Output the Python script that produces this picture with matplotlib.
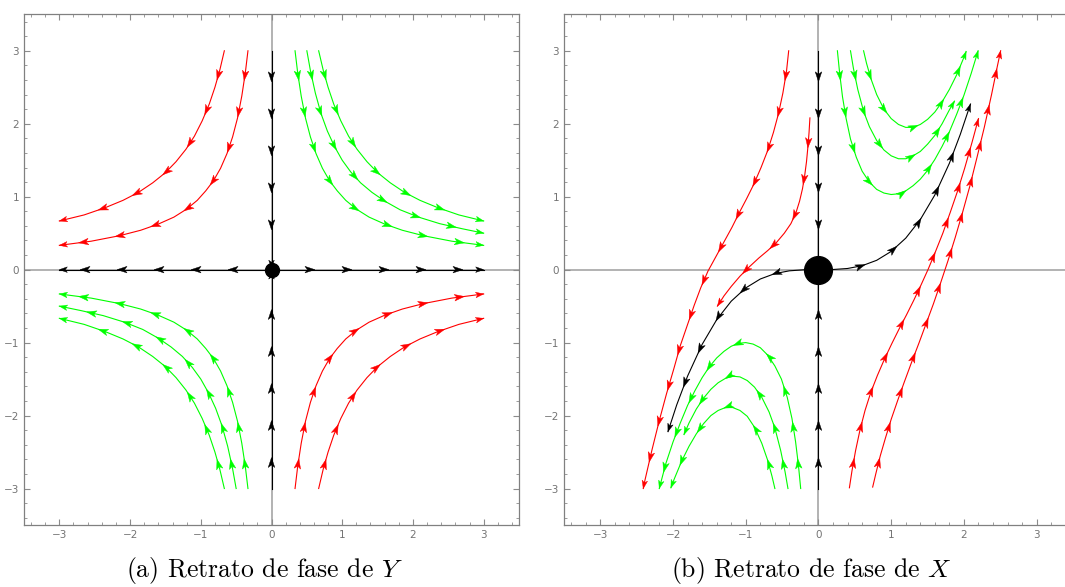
import numpy as np
import matplotlib
matplotlib.use("Agg")
import matplotlib.pyplot as plt
from matplotlib.patches import Polygon
from matplotlib.ticker import MultipleLocator

plt.rcParams['mathtext.fontset'] = 'cm'

RED = '#ff0000'
GREEN = '#00ff00'
BLACK = '#000000'

ticks = [-3, -2, -1, 0, 1, 2, 3]

# ---- (a) phase portrait of Y : streamlines (x list, y list), in flow order
a_green1 = ([0.333, 0.37, 0.42, 0.48, 0.55, 0.63, 0.72, 0.82, 0.93, 1.05, 1.2, 1.38, 1.6, 1.85, 2.15, 2.55, 3.0],
            [3.0, 2.70, 2.38, 2.08, 1.82, 1.59, 1.39, 1.22, 1.08, 0.95, 0.83, 0.72, 0.625, 0.54, 0.465, 0.39, 0.333])
a_green2 = ([0.5, 0.55, 0.62, 0.7, 0.79, 0.89, 1.0, 1.12, 1.26, 1.42, 1.6, 1.82, 2.08, 2.38, 2.7, 3.0],
            [3.0, 2.73, 2.42, 2.14, 1.90, 1.69, 1.5, 1.34, 1.19, 1.06, 0.94, 0.82, 0.72, 0.63, 0.56, 0.5])
a_green3 = ([0.667, 0.73, 0.8, 0.88, 0.98, 1.09, 1.21, 1.35, 1.5, 1.68, 1.88, 2.1, 2.35, 2.65, 3.0],
            [3.0, 2.74, 2.5, 2.27, 2.04, 1.83, 1.65, 1.48, 1.33, 1.19, 1.06, 0.95, 0.85, 0.75, 0.667])
a_green4 = ([-0.333, -0.37, -0.42, -0.48, -0.55, -0.63, -0.72, -0.82, -0.93, -1.05, -1.2, -1.38, -1.6, -1.85, -2.15, -2.55, -3.0],
            [-3.0, -2.70, -2.38, -2.08, -1.82, -1.59, -1.39, -1.22, -1.08, -0.95, -0.83, -0.72, -0.625, -0.54, -0.465, -0.39, -0.333])
a_green5 = ([-0.5, -0.55, -0.62, -0.7, -0.79, -0.89, -1.0, -1.12, -1.26, -1.42, -1.6, -1.82, -2.08, -2.38, -2.7, -3.0],
            [-3.0, -2.73, -2.42, -2.14, -1.90, -1.69, -1.5, -1.34, -1.19, -1.06, -0.94, -0.82, -0.72, -0.63, -0.56, -0.5])
a_green6 = ([-0.667, -0.73, -0.8, -0.88, -0.98, -1.09, -1.21, -1.35, -1.5, -1.68, -1.88, -2.1, -2.35, -2.65, -3.0],
            [-3.0, -2.74, -2.5, -2.27, -2.04, -1.83, -1.65, -1.48, -1.33, -1.19, -1.06, -0.95, -0.85, -0.75, -0.667])
a_red1 = ([-0.333, -0.37, -0.42, -0.48, -0.55, -0.63, -0.72, -0.82, -0.93, -1.05, -1.2, -1.38, -1.6, -1.85, -2.15, -2.55, -3.0],
          [3.0, 2.70, 2.38, 2.08, 1.82, 1.59, 1.39, 1.22, 1.08, 0.95, 0.83, 0.72, 0.625, 0.54, 0.465, 0.39, 0.333])
a_red2 = ([-0.667, -0.73, -0.8, -0.88, -0.98, -1.09, -1.21, -1.35, -1.5, -1.68, -1.88, -2.1, -2.35, -2.65, -3.0],
          [3.0, 2.74, 2.5, 2.27, 2.04, 1.83, 1.65, 1.48, 1.33, 1.19, 1.06, 0.95, 0.85, 0.75, 0.667])
a_red3 = ([0.333, 0.37, 0.42, 0.48, 0.55, 0.63, 0.72, 0.82, 0.93, 1.05, 1.2, 1.38, 1.6, 1.85, 2.15, 2.55, 3.0],
          [-3.0, -2.70, -2.38, -2.08, -1.82, -1.59, -1.39, -1.22, -1.08, -0.95, -0.83, -0.72, -0.625, -0.54, -0.465, -0.39, -0.333])
a_red4 = ([0.667, 0.73, 0.8, 0.88, 0.98, 1.09, 1.21, 1.35, 1.5, 1.68, 1.88, 2.1, 2.35, 2.65, 3.0],
          [-3.0, -2.74, -2.5, -2.27, -2.04, -1.83, -1.65, -1.48, -1.33, -1.19, -1.06, -0.95, -0.85, -0.75, -0.667])
a_black_up = ([0, 0], [3.0, 0.02])
a_black_down = ([0, 0], [-3.0, -0.02])
a_black_right = ([0.02, 3.0], [0, 0])
a_black_left = ([-0.02, -3.0], [0, 0])

# ---- (b) phase portrait of X
b_green1 = ([0.62, 0.66, 0.72, 0.8, 0.9, 1.0, 1.1, 1.2, 1.3, 1.4, 1.5, 1.6, 1.7, 1.8, 1.9, 2.0, 2.03],
            [3.0, 2.83, 2.62, 2.40, 2.20, 2.07, 1.99, 1.95, 1.95, 1.99, 2.06, 2.16, 2.30, 2.47, 2.67, 2.91, 2.99])
b_green2 = ([0.44, 0.48, 0.54, 0.62, 0.7, 0.8, 0.9, 1.0, 1.1, 1.2, 1.3, 1.4, 1.5, 1.6, 1.7, 1.8, 1.87],
            [3.0, 2.76, 2.47, 2.17, 1.96, 1.77, 1.64, 1.56, 1.52, 1.52, 1.56, 1.62, 1.72, 1.84, 2.0, 2.19, 2.31])
b_green3 = ([0.26, 0.29, 0.33, 0.38, 0.44, 0.52, 0.6, 0.7, 0.8, 0.9, 1.0, 1.1, 1.2, 1.3, 1.4, 1.5, 1.6, 1.7, 1.8, 1.9, 2.0, 2.1, 2.195],
            [3.0, 2.70, 2.37, 2.07, 1.79, 1.54, 1.35, 1.20, 1.10, 1.05, 1.03, 1.04, 1.08, 1.15, 1.24, 1.36, 1.51, 1.69, 1.89, 2.13, 2.39, 2.69, 3.0])
b_green4 = ([-0.6, -0.64, -0.7, -0.78, -0.88, -0.98, -1.08, -1.18, -1.28, -1.38, -1.48, -1.58, -1.68, -1.78, -1.88, -1.98, -2.03],
            [-3.0, -2.83, -2.61, -2.38, -2.16, -2.01, -1.93, -1.89, -1.89, -1.93, -2.0, -2.11, -2.25, -2.42, -2.62, -2.86, -2.99])
b_green5 = ([-0.42, -0.46, -0.52, -0.6, -0.68, -0.78, -0.88, -0.98, -1.08, -1.18, -1.28, -1.38, -1.48, -1.58, -1.68, -1.78, -1.85],
            [-3.0, -2.77, -2.48, -2.17, -1.95, -1.75, -1.61, -1.52, -1.47, -1.46, -1.49, -1.55, -1.64, -1.76, -1.91, -2.1, -2.26])
b_green6 = ([-0.245, -0.275, -0.315, -0.365, -0.43, -0.51, -0.6, -0.7, -0.8, -0.9, -1.0, -1.1, -1.2, -1.3, -1.4, -1.5, -1.6, -1.7, -1.8, -1.9, -2.0, -2.1, -2.19],
            [-3.0, -2.69, -2.36, -2.04, -1.75, -1.50, -1.32, -1.17, -1.07, -1.02, -1.0, -1.01, -1.05, -1.12, -1.21, -1.33, -1.48, -1.66, -1.86, -2.1, -2.36, -2.66, -3.0])
b_red1 = ([-0.41, -0.44, -0.49, -0.55, -0.62, -0.70, -0.79, -0.89, -0.99, -1.09, -1.19, -1.30, -1.41, -1.52, -1.62, -1.71, -1.80, -1.90, -1.99, -2.09, -2.19, -2.29, -2.39, -2.41],
          [3.0, 2.72, 2.42, 2.14, 1.88, 1.63, 1.40, 1.17, 0.97, 0.78, 0.58, 0.38, 0.18, -0.02, -0.25, -0.49, -0.75, -1.04, -1.36, -1.70, -2.07, -2.47, -2.90, -3.0])
b_red2 = ([-0.118, -0.13, -0.145, -0.165, -0.19, -0.22, -0.26, -0.31, -0.38, -0.47, -0.58, -0.7, -0.82, -0.95, -1.08, -1.2, -1.3, -1.39],
          [2.08, 1.88, 1.69, 1.48, 1.29, 1.11, 0.94, 0.78, 0.63, 0.50, 0.37, 0.26, 0.16, 0.04, -0.09, -0.23, -0.36, -0.50])
b_red3 = ([0.425, 0.46, 0.51, 0.57, 0.64, 0.72, 0.81, 0.91, 1.01, 1.11, 1.21, 1.31, 1.41, 1.51, 1.61, 1.71, 1.81, 1.91, 2.01, 2.11, 2.2],
          [-2.99, -2.76, -2.48, -2.20, -1.93, -1.68, -1.45, -1.22, -1.01, -0.81, -0.62, -0.42, -0.21, 0.01, 0.25, 0.50, 0.78, 1.07, 1.39, 1.74, 2.07])
b_red4 = ([0.745, 0.79, 0.85, 0.92, 1.0, 1.09, 1.18, 1.28, 1.38, 1.48, 1.58, 1.68, 1.78, 1.88, 1.98, 2.08, 2.18, 2.28, 2.38, 2.46, 2.505],
          [-2.98, -2.79, -2.55, -2.31, -2.05, -1.79, -1.54, -1.27, -1.01, -0.74, -0.47, -0.18, 0.12, 0.44, 0.78, 1.14, 1.54, 1.95, 2.40, 2.79, 3.0])
b_black_up = ([0, 0], [3.0, 0.02])
b_black_down = ([0, 0], [-3.0, -0.02])
b_black_right = ([0.03, 0.2, 0.4, 0.6, 0.8, 1.0, 1.2, 1.4, 1.6, 1.8, 1.95, 2.09],
                 [0.0, 0.002, 0.016, 0.054, 0.128, 0.25, 0.432, 0.686, 1.024, 1.458, 1.854, 2.27])
b_black_left = ([-0.03, -0.2, -0.4, -0.6, -0.8, -1.0, -1.2, -1.4, -1.6, -1.8, -1.95, -2.07],
                [0.0, -0.002, -0.016, -0.054, -0.128, -0.25, -0.432, -0.686, -1.024, -1.458, -1.854, -2.22])


def style_axes(ax):
    ax.set_xlim(-3.5, 3.5)
    ax.set_ylim(-3.5, 3.5)
    ax.set_xticks(ticks)
    ax.set_yticks(ticks)
    ax.xaxis.set_minor_locator(MultipleLocator(0.2))
    ax.yaxis.set_minor_locator(MultipleLocator(0.2))
    ax.tick_params(which='both', direction='in', top=True, right=True,
                   color='0.55', labelsize=7.5, labelcolor='0.45')
    ax.tick_params(which='major', length=4, width=0.8, pad=3.5)
    ax.tick_params(which='minor', length=2, width=0.6)
    for sp in ax.spines.values():
        sp.set_color('0.5')
        sp.set_linewidth(0.9)
    ax.axhline(0, color='0.65', lw=1.2, zorder=1)
    ax.axvline(0, color='0.65', lw=1.2, zorder=1)


def draw_stream(ax, curve, color, first=30, step=37):
    xs, ys = curve
    ax.plot(xs, ys, color=color, lw=0.8, zorder=2)
    pts = ax.transData.transform(np.column_stack([xs, ys]))
    seg = np.hypot(np.diff(pts[:, 0]), np.diff(pts[:, 1]))
    cum = np.concatenate([[0], np.cumsum(seg)])
    total = cum[-1]
    spots = [(s, 10, 3.3) for s in np.arange(first, total, step) if s < total - 14]
    spots.append((total, 8, 2.8))
    inv = ax.transData.inverted()
    for s, L, W in spots:
        i = int(np.clip(np.searchsorted(cum, s) - 1, 0, len(seg) - 1))
        d = (pts[i + 1] - pts[i]) / seg[i]
        tip = pts[i] + (s - cum[i]) * d
        n = np.array([-d[1], d[0]])
        base = tip - L * d
        notch = tip - 0.75 * L * d
        poly = np.array([tip, base + W * n, notch, base - W * n])
        ax.add_patch(Polygon(inv.transform(poly), closed=True, fc=color, ec=color,
                             lw=0.3, zorder=3))


fig = plt.figure(figsize=(10.65, 5.87), dpi=100)
axA = fig.add_axes([24 / 1065, 62 / 587, 495 / 1065, 510.7 / 587])
axB = fig.add_axes([564 / 1065, 62 / 587, 509 / 1065, 510.7 / 587])
style_axes(axA)
style_axes(axB)

for c in [a_green1, a_green2, a_green3, a_green4, a_green5, a_green6]:
    draw_stream(axA, c, GREEN)
for c in [a_red1, a_red2, a_red3, a_red4]:
    draw_stream(axA, c, RED)
draw_stream(axA, a_black_up, BLACK, first=31)
draw_stream(axA, a_black_down, BLACK, first=31)
draw_stream(axA, a_black_right, BLACK, first=42)
draw_stream(axA, a_black_left, BLACK, first=42)
axA.plot([0], [0], 'o', ms=10, color='black', zorder=5)

for c in [b_green1, b_green2, b_green3, b_green4, b_green5, b_green6]:
    draw_stream(axB, c, GREEN)
for c in [b_red1, b_red2, b_red3, b_red4]:
    draw_stream(axB, c, RED)
draw_stream(axB, b_black_up, BLACK, first=31)
draw_stream(axB, b_black_down, BLACK, first=31)
draw_stream(axB, b_black_right, BLACK, first=45)
draw_stream(axB, b_black_left, BLACK, first=45)
axB.plot([0], [0], 'o', ms=20, color='black', zorder=5)

fig.text(264.7 / 1065, 10 / 587, r'(a) Retrato de fase de $Y$', ha='center', va='baseline',
         fontsize=18.5, family='cmr10')
fig.text(811 / 1065, 10 / 587, r'(b) Retrato de fase de $X$', ha='center', va='baseline',
         fontsize=18.5, family='cmr10')

fig.savefig('out.png', dpi=100)
